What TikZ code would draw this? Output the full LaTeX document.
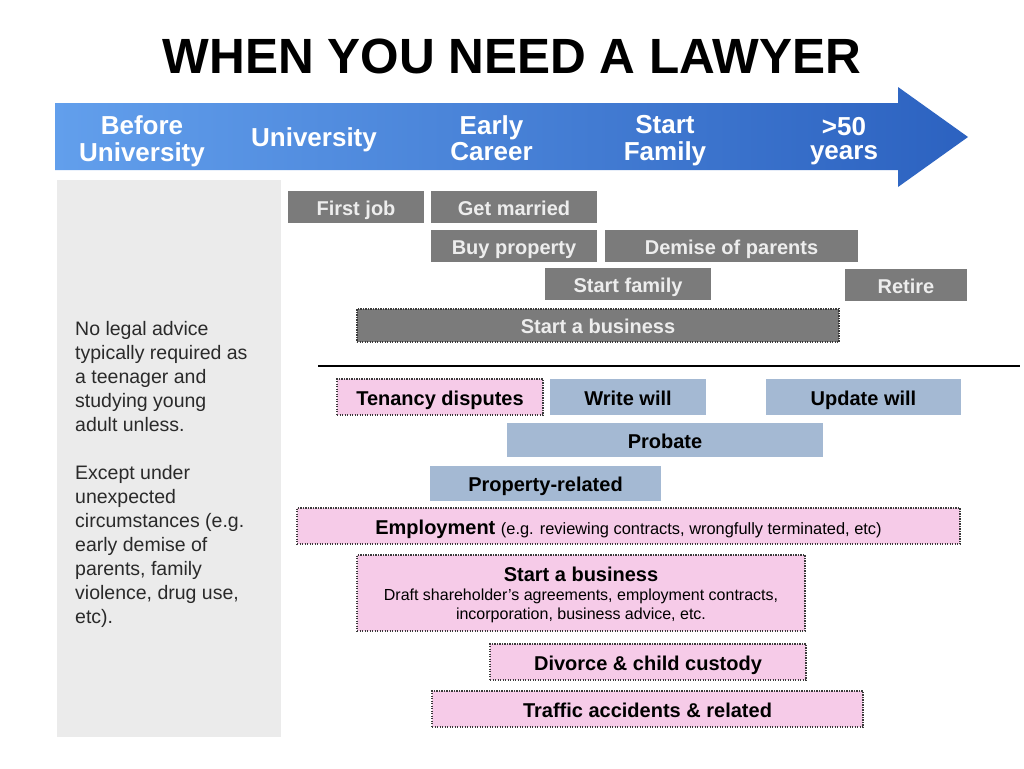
\documentclass[tikz,border=0pt]{standalone}
\usepackage{fontspec}
\setmainfont{Liberation Sans}
\definecolor{arrL}{HTML}{629FEC}
\definecolor{arrR}{HTML}{2C62C0}
\definecolor{evgray}{HTML}{7B7B7B}
\definecolor{evtext}{HTML}{EDEDED}
\definecolor{blubox}{HTML}{A4B9D3}
\definecolor{pinkbox}{HTML}{F6CBE8}
\definecolor{dotcol}{HTML}{3A3A3A}
\definecolor{panel}{HTML}{EBEBEB}
\definecolor{bodytext}{HTML}{2A2A2A}
\tikzset{
  boxfont/.style={font=\fontsize{20}{24}\selectfont\bfseries},
  basebox/.style={boxfont, inner sep=0pt, text height=16pt, text depth=0pt, anchor=center},
  evt/.style={basebox, fill=evgray, text=evtext},
  blu/.style={basebox, fill=blubox, text=black},
  dotline/.style={draw=dotcol, line width=1.3pt, dash pattern=on 1.4pt off 1.1pt},
  pinkfill/.style={fill=pinkbox, text=black, dotline, inner sep=0pt, anchor=center},
  pnk/.style={basebox, pinkfill},
  stage/.style={font=\fontsize{26}{24}\selectfont\bfseries, text=white, align=center, inner sep=0pt, anchor=center},
}
\begin{document}
\begin{tikzpicture}[x=1pt,y=-1pt]
\useasboundingbox[fill=white] (0,0) rectangle (1024,768);
% title
\node[font=\fontsize{49.5}{54}\selectfont\bfseries, inner sep=0pt, anchor=base] (title) at (512,74) {WHEN YOU NEED A LAWYER};
% arrow
\shade[left color=arrL, right color=arrR] (55,103) -- (898,103) -- (898,87) -- (968,137) -- (898,187) -- (898,170) -- (55,170) -- cycle;
\node[stage] (s1) at (142,142) {\strut Before\\University\strut};
\node[stage] (s2) at (314,141) {\strut University\strut};
\node[stage] (s3) at (491.5,142) {\strut Early\\Career\strut};
\node[stage] (s4) at (665,142) {\strut Start\\Family\strut};
\node[stage] (s5) at (844,142) {\strut >50\\years\strut};
% left panel
\fill[panel] (57,180) rectangle (281,737);
\node[font=\fontsize{19.5}{24}\selectfont, text=bodytext, align=left, inner sep=0pt, anchor=north west] (note) at (75,321)
  {No legal advice\\typically required as\\a teenager and\\studying young\\adult unless.\\[24pt]Except under\\unexpected\\circumstances (e.g.\\early demise of\\parents, family\\violence, drug use,\\etc).};
% life events
\node[evt, minimum width=136pt, minimum height=32pt] (fj) at (356,207) {First job};
\node[evt, minimum width=166pt, minimum height=32pt] (gm) at (514,207) {Get married};
\node[evt, minimum width=166pt, minimum height=32pt] (bp) at (514,246) {Buy property};
\node[evt, minimum width=253pt, minimum height=32pt] (dp) at (731.5,246) {Demise of parents};
\node[evt, minimum width=166pt, minimum height=32pt] (sf) at (628,284) {Start family};
\node[evt, minimum width=122pt, minimum height=32pt] (rt) at (906,285) {Retire};
\node[evt, dotline, minimum width=482pt, minimum height=33pt] (sb) at (598,325.5) {Start a business};
% divider
\coordinate (d1) at (318,366);
\coordinate (d2) at (1020,366);
\draw[line width=2pt] (d1) -- (d2);
% legal needs
\node[pnk, minimum width=206pt, minimum height=36pt] (td) at (440,397) {Tenancy disputes};
\node[blu, minimum width=156pt, minimum height=36pt] (ww) at (628,397) {Write will};
\node[blu, minimum width=195pt, minimum height=36pt] (uw) at (863.5,397) {Update will};
\node[blu, minimum width=316pt, minimum height=34pt] (pb) at (665,440) {Probate};
\node[blu, minimum width=231pt, minimum height=35pt] (pr) at (545.5,483.5) {Property-related};
\node[pnk, minimum width=663pt, minimum height=36pt] (em) at (628.5,526)
  {Employment {\mdseries\fontsize{16.4}{19}\selectfont (e.g. reviewing contracts, wrongfully terminated, etc)}};
\node[pinkfill, align=center, font=\fontsize{20}{19}\selectfont\bfseries, minimum width=448pt, minimum height=76pt] (bz) at (581,593)
  {\rule{0pt}{19.2pt}Start a business\\{\mdseries\fontsize{16}{19}\selectfont Draft shareholder's agreements, employment contracts,}\\{\mdseries\fontsize{16}{19}\selectfont incorporation, business advice, etc.}};
\node[pnk, minimum width=316pt, minimum height=36pt] (dv) at (648,662) {Divorce \& child custody};
\node[pnk, minimum width=431pt, minimum height=36pt] (tr) at (647.5,709) {Traffic accidents \& related};
\end{tikzpicture}
\end{document}
